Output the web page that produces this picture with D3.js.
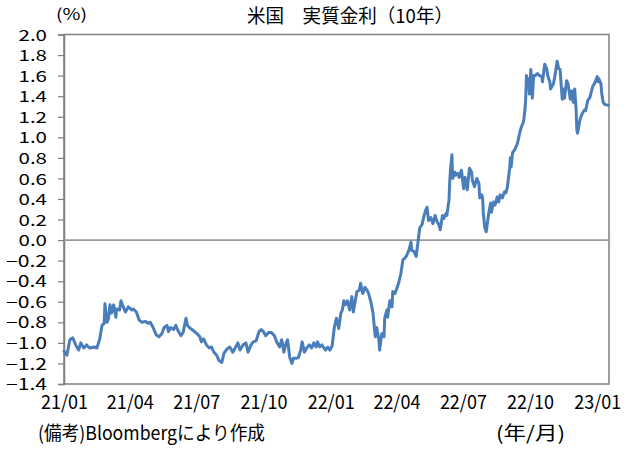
<!DOCTYPE html>
<html><head><meta charset="utf-8">
<script src="https://cdn.jsdelivr.net/npm/d3@7"></script>
<style>
html,body{margin:0;padding:0;background:#fff;}
svg text{font-family:"Noto Sans CJK JP","Noto Sans",sans-serif;fill:#000;}
</style></head>
<body><svg id="chart" width="632" height="455"></svg>
<script>
const titleText = "米国　実質金利（10年）";
const unitText = "(%)";
const sourceText = "(備考)Bloombergにより作成";
const xUnitText = "(年/月)";
const yTicks = [2.0,1.8,1.6,1.4,1.2,1.0,0.8,0.6,0.4,0.2,0.0,-0.2,-0.4,-0.6,-0.8,-1.0,-1.2,-1.4];
const xTickDates = ["2021-01-01","2021-04-01","2021-07-01","2021-10-01","2022-01-01","2022-04-01","2022-07-01","2022-10-01","2023-01-01"];
const xDomain = ["2021-01-01","2023-01-17"];
const dates = [
"2021-01-01","2021-01-05","2021-01-09","2021-01-13","2021-01-17","2021-01-21","2021-01-24","2021-01-28",
"2021-02-01","2021-02-05","2021-02-11","2021-02-15","2021-02-19","2021-02-22","2021-02-25","2021-02-26",
"2021-03-01","2021-03-03","2021-03-05","2021-03-07","2021-03-10","2021-03-13","2021-03-14","2021-03-18","2021-03-20","2021-03-22","2021-03-26","2021-03-30",
"2021-04-04","2021-04-06","2021-04-10","2021-04-14","2021-04-18","2021-04-22","2021-04-26","2021-04-29",
"2021-05-03","2021-05-07","2021-05-11","2021-05-15","2021-05-18","2021-05-22","2021-05-24","2021-05-27","2021-05-31",
"2021-06-03","2021-06-06","2021-06-10","2021-06-13","2021-06-17","2021-06-19","2021-06-23","2021-06-27",
"2021-07-02","2021-07-06","2021-07-08","2021-07-11","2021-07-15","2021-07-19","2021-07-22","2021-07-25","2021-07-29",
"2021-08-01","2021-08-05","2021-08-08","2021-08-12","2021-08-16","2021-08-20","2021-08-24","2021-08-27","2021-08-30",
"2021-09-03","2021-09-07","2021-09-10","2021-09-14","2021-09-17","2021-09-21","2021-09-25","2021-09-28",
"2021-10-01","2021-10-04","2021-10-08","2021-10-12","2021-10-16","2021-10-19","2021-10-23","2021-10-26","2021-10-29",
"2021-11-01","2021-11-03","2021-11-06","2021-11-09","2021-11-11","2021-11-15","2021-11-18","2021-11-21","2021-11-23","2021-11-26","2021-11-30",
"2021-12-03","2021-12-06","2021-12-09","2021-12-12","2021-12-14","2021-12-17","2021-12-20","2021-12-23","2021-12-25","2021-12-28","2021-12-31",
"2022-01-03","2022-01-06","2022-01-09","2022-01-12","2022-01-15","2022-01-17","2022-01-19","2022-01-21","2022-01-24","2022-01-27","2022-01-30",
"2022-02-01","2022-02-03","2022-02-06","2022-02-09","2022-02-11","2022-02-14","2022-02-17","2022-02-20","2022-02-22","2022-02-25","2022-02-28",
"2022-03-03","2022-03-05","2022-03-08","2022-03-09","2022-03-12","2022-03-15","2022-03-16","2022-03-19","2022-03-20","2022-03-23","2022-03-26","2022-03-27","2022-03-30",
"2022-04-02","2022-04-04","2022-04-07","2022-04-10","2022-04-12","2022-04-15","2022-04-18","2022-04-21","2022-04-22","2022-04-25","2022-04-28","2022-04-30",
"2022-05-03","2022-05-06","2022-05-09","2022-05-11","2022-05-13","2022-05-15","2022-05-18","2022-05-21","2022-05-24","2022-05-26","2022-05-29","2022-05-31",
"2022-06-03","2022-06-05","2022-06-08","2022-06-09","2022-06-12","2022-06-13","2022-06-14","2022-06-16","2022-06-17","2022-06-20","2022-06-21","2022-06-24","2022-06-26","2022-06-29",
"2022-07-02","2022-07-04","2022-07-07","2022-07-10","2022-07-13","2022-07-14","2022-07-17","2022-07-20","2022-07-23","2022-07-24","2022-07-27","2022-07-28","2022-07-29","2022-07-31",
"2022-08-02","2022-08-04","2022-08-06","2022-08-08","2022-08-09","2022-08-12","2022-08-14","2022-08-17","2022-08-19","2022-08-21","2022-08-24","2022-08-27","2022-08-29","2022-08-31",
"2022-09-03","2022-09-04","2022-09-05","2022-09-07","2022-09-10","2022-09-13","2022-09-14","2022-09-17","2022-09-19","2022-09-22","2022-09-24","2022-09-25","2022-09-26","2022-09-28","2022-09-29","2022-09-30",
"2022-10-02","2022-10-03","2022-10-04","2022-10-06","2022-10-08","2022-10-11","2022-10-14","2022-10-17","2022-10-18","2022-10-21","2022-10-24","2022-10-25","2022-10-28","2022-10-29",
"2022-11-02","2022-11-04","2022-11-07","2022-11-09","2022-11-11","2022-11-14","2022-11-16","2022-11-17","2022-11-20","2022-11-22","2022-11-25","2022-11-27","2022-11-29",
"2022-12-01","2022-12-03","2022-12-04","2022-12-05","2022-12-08","2022-12-09","2022-12-12","2022-12-15","2022-12-16","2022-12-19","2022-12-22","2022-12-24","2022-12-26","2022-12-28",
"2023-01-01","2023-01-02","2023-01-03","2023-01-06","2023-01-07","2023-01-09","2023-01-11","2023-01-16"
];
const realRate = [
-1.08,-1.12,-0.97,-0.95,-1.02,-1.07,-1.00,-1.05,
-1.02,-1.05,-1.04,-1.05,-0.96,-0.83,-0.81,-0.62,
-0.80,-0.76,-0.63,-0.71,-0.63,-0.75,-0.67,-0.68,-0.59,-0.63,-0.70,-0.65,
-0.68,-0.67,-0.70,-0.78,-0.80,-0.79,-0.81,-0.80,
-0.85,-0.92,-0.94,-0.91,-0.85,-0.83,-0.89,-0.85,-0.87,
-0.83,-0.88,-0.93,-0.90,-0.76,-0.83,-0.86,-0.88,
-0.91,-0.94,-0.99,-0.96,-1.02,-1.05,-1.04,-1.09,-1.12,
-1.17,-1.19,-1.10,-1.06,-1.04,-1.09,-1.04,-1.00,-1.07,
-1.02,-1.00,-1.09,-1.02,-0.99,-0.98,-0.89,-0.87,
-0.89,-0.93,-0.90,-0.90,-0.93,-0.99,-1.04,-0.97,-1.09,
-1.00,-0.97,-1.14,-1.20,-1.15,-1.15,-1.14,-1.07,-0.99,-1.09,-1.04,
-1.02,-1.05,-1.00,-1.04,-0.99,-1.04,-1.02,-1.05,-1.07,-1.04,-1.07,
-1.03,-0.85,-0.76,-0.86,-0.71,-0.68,-0.59,-0.63,-0.59,-0.68,-0.55,
-0.70,-0.62,-0.50,-0.49,-0.42,-0.52,-0.46,-0.49,-0.52,-0.60,-0.71,
-0.94,-0.85,-0.97,-1.07,-0.91,-0.94,-0.76,-0.68,-0.75,-0.59,-0.65,-0.50,-0.52,
-0.46,-0.42,-0.33,-0.19,-0.18,-0.15,-0.10,-0.02,-0.10,-0.11,-0.16,-0.05,
0.12,0.15,0.24,0.29,0.32,0.19,0.22,0.16,0.24,0.19,0.15,0.10,
0.24,0.21,0.26,0.24,0.39,0.57,0.68,0.83,0.60,0.66,0.63,0.65,0.61,0.68,
0.50,0.61,0.49,0.70,0.66,0.58,0.52,0.60,0.55,0.41,0.44,0.41,0.26,0.12,
0.08,0.19,0.29,0.36,0.27,0.37,0.34,0.42,0.37,0.44,0.41,0.47,0.46,0.52,
0.70,0.80,0.71,0.85,0.88,0.93,0.95,1.05,1.10,1.15,1.27,1.38,1.60,1.48,1.57,1.42,
1.66,1.54,1.38,1.60,1.60,1.62,1.60,1.59,1.54,1.71,1.66,1.60,1.54,1.47,
1.52,1.60,1.74,1.67,1.66,1.37,1.47,1.38,1.55,1.52,1.37,1.45,1.34,
1.47,1.27,1.07,1.04,1.16,1.19,1.24,1.27,1.26,1.36,1.39,1.45,1.50,1.52,
1.59,1.54,1.57,1.52,1.43,1.34,1.32,1.31
];

const parse = d3.timeParse("%Y-%m-%d");
const data = dates.map((d,i)=>({date:parse(d), value:realRate[i]}));

const M = {left:64, right:609, top:34.5, bottom:384};
const svg = d3.select("#chart");
svg.append("rect").attr("width",632).attr("height",455).attr("fill","#fff");

const x = d3.scaleTime().domain(xDomain.map(parse)).range([M.left, M.right]);
const y = d3.scaleLinear().domain([-1.4, 2.0]).range([M.bottom, M.top]);

const FS = 19;
const NUM_FONT = '"Liberation Sans Narrow","Liberation Sans",sans-serif';
function charW(c){ return (c==="−"||c==="-") ? 12.5 : 9.5; }
function fmtY(v){ const s = Math.abs(v).toFixed(1); return (v < -1e-9 ? "−" : "") + s; }

// frame
svg.append("rect").attr("x",M.left).attr("y",M.top).attr("width",M.right-M.left).attr("height",M.bottom-M.top)
  .attr("fill","none").attr("stroke","#7f7f7f").attr("stroke-width",1.5);

// y axis
const yAxis = d3.axisLeft(y).tickValues(yTicks).tickSize(6).tickFormat(fmtY);
const gy = svg.append("g").attr("transform",`translate(${M.left},0)`).call(yAxis);
gy.select(".domain").attr("stroke","#7f7f7f").attr("stroke-width",1.5);
gy.selectAll(".tick line").attr("stroke","#7f7f7f").attr("stroke-width",1.2);
gy.selectAll(".tick text").attr("x",-17).attr("dy","0.36em").attr("font-size",15.5).attr("fill","#000")
  .attr("font-family",NUM_FONT)
  .attr("textLength",d=>Array.from(fmtY(d)).reduce((a,c)=>a+charW(c),0))
  .attr("lengthAdjust","spacingAndGlyphs");

// zero line
svg.append("line").attr("x1",M.left).attr("x2",M.right).attr("y1",y(0)).attr("y2",y(0))
  .attr("stroke","#9a9a9a").attr("stroke-width",1.6);

// x axis
const fmtX = d3.timeFormat("%y/%m");
const xAxis = d3.axisBottom(x).tickValues(xTickDates.map(parse)).tickSize(0).tickFormat(fmtX);
const gx = svg.append("g").attr("transform",`translate(0,${M.bottom})`).call(xAxis);
gx.select(".domain").remove();
gx.selectAll(".tick text").attr("y",12).attr("dy","0.71em").attr("font-size",19).attr("fill","#000")
  .attr("font-family",NUM_FONT)
  .attr("textLength",47).attr("lengthAdjust","spacingAndGlyphs");

// line
const line = d3.line().x(d=>x(d.date)).y(d=>y(d.value));
svg.append("path").datum(data).attr("d",line).attr("fill","none")
  .attr("stroke","#4a7ebb").attr("stroke-width",3).attr("stroke-linejoin","round").attr("stroke-linecap","round");

// texts
svg.append("text").attr("x",350).attr("y",23).attr("text-anchor","middle").attr("font-size",FS)
  .attr("textLength",206).attr("lengthAdjust","spacingAndGlyphs").text(titleText);
svg.append("text").attr("x",56).attr("y",20).attr("font-size",15.5).attr("font-family",NUM_FONT)
  .attr("textLength",31).attr("lengthAdjust","spacingAndGlyphs").text(unitText);
svg.append("text").attr("x",38).attr("y",440).attr("font-size",FS)
  .attr("textLength",227).attr("lengthAdjust","spacingAndGlyphs").text(sourceText);
svg.append("text").attr("x",496).attr("y",440).attr("font-size",FS)
  .attr("textLength",69).attr("lengthAdjust","spacingAndGlyphs").text(xUnitText);
</script></body></html>
